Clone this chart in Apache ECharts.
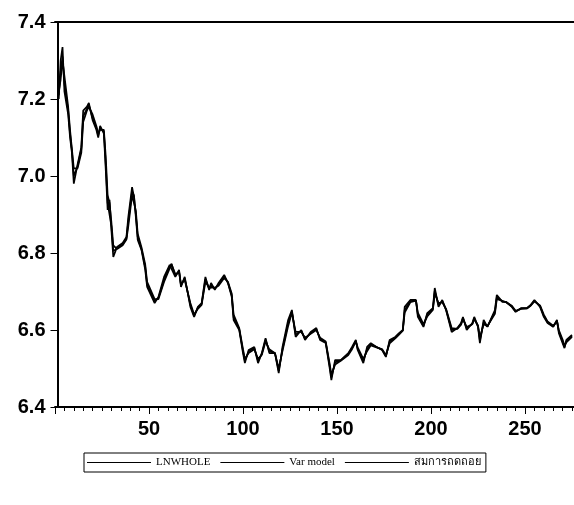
<!DOCTYPE html>
<html>
<head>
<meta charset="utf-8">
<script src="https://cdn.jsdelivr.net/npm/echarts@6/dist/echarts.min.js"></script>
<style>
html,body{margin:0;padding:0;background:#fff;overflow:hidden;}
#wrap{width:574px;height:505px;overflow:hidden;position:relative;}
#chart{width:619px;height:505px;position:absolute;left:0;top:0;}
</style>
</head>
<body>
<div id="wrap"><div id="chart"></div></div>
<script>
const seriesNames = ['LNWHOLE', 'Var model', 'สมการถดถอย'];
const yTicks = [6.4, 6.6, 6.8, 7.0, 7.2, 7.4];
const xs = [2,3,4,5,7,8,9,10,12,14,15,17,18,20,22,23,24,26,27,28,29,30,31,33,36,38,39,41,42,43,44,46,48,49,53,55,58,61,62,64,66,67,69,72,74,76,78,80,82,83,85,87,90,92,94,95,98,100,101,103,106,108,110,112,114,117,119,121,124,126,128,131,133,136,139,141,144,146,147,149,152,156,158,160,161,164,166,168,171,174,176,178,181,183,185,186,189,192,193,196,198,201,202,204,206,208,211,214,216,217,219,222,223,225,226,228,230,231,234,235,238,240,243,245,248,251,253,255,258,260,262,265,267,268,270,271,272,275];
const lnwhole = [7.20,7.30,7.335,7.22,7.16,7.10,7.06,6.98,7.03,7.075,7.17,7.18,7.19,7.145,7.12,7.10,7.13,7.11,7.016,6.912,6.938,6.86,6.79,6.816,6.826,6.842,6.894,6.971,6.945,6.894,6.834,6.808,6.756,6.712,6.670,6.686,6.738,6.769,6.774,6.738,6.756,6.712,6.738,6.660,6.634,6.660,6.670,6.738,6.704,6.722,6.704,6.722,6.743,6.722,6.686,6.626,6.600,6.540,6.514,6.548,6.556,6.514,6.540,6.579,6.540,6.540,6.488,6.556,6.626,6.652,6.582,6.600,6.574,6.595,6.605,6.574,6.566,6.504,6.470,6.522,6.522,6.540,6.556,6.574,6.548,6.514,6.556,6.566,6.556,6.548,6.530,6.574,6.582,6.592,6.600,6.660,6.678,6.678,6.634,6.608,6.644,6.657,6.709,6.660,6.678,6.652,6.595,6.605,6.618,6.634,6.600,6.618,6.634,6.608,6.566,6.626,6.608,6.608,6.652,6.691,6.673,6.673,6.660,6.647,6.657,6.657,6.665,6.678,6.660,6.634,6.618,6.608,6.626,6.592,6.566,6.553,6.574,6.587];
const varModel = [7.22,7.25,7.30,7.26,7.18,7.12,7.07,7.02,7.02,7.06,7.14,7.17,7.18,7.16,7.13,7.11,7.12,7.12,7.05,6.95,6.93,6.88,6.82,6.81,6.82,6.835,6.87,6.95,6.955,6.91,6.85,6.815,6.77,6.725,6.68,6.68,6.725,6.76,6.77,6.745,6.75,6.72,6.73,6.67,6.64,6.655,6.665,6.725,6.71,6.715,6.71,6.715,6.735,6.725,6.695,6.64,6.605,6.55,6.525,6.54,6.55,6.525,6.535,6.57,6.55,6.54,6.50,6.545,6.61,6.645,6.595,6.595,6.58,6.59,6.60,6.58,6.57,6.515,6.485,6.51,6.52,6.535,6.55,6.57,6.555,6.525,6.545,6.56,6.555,6.55,6.535,6.565,6.578,6.588,6.598,6.645,6.672,6.676,6.645,6.615,6.635,6.652,6.695,6.67,6.672,6.655,6.605,6.603,6.614,6.628,6.608,6.615,6.628,6.612,6.58,6.615,6.61,6.608,6.642,6.68,6.676,6.672,6.663,6.65,6.655,6.656,6.663,6.674,6.664,6.64,6.622,6.611,6.622,6.6,6.575,6.56,6.568,6.582];
const regression = [7.21,7.27,7.31,7.24,7.17,7.11,7.065,7.00,7.025,7.07,7.155,7.175,7.185,7.15,7.125,7.105,7.125,7.115,7.03,6.93,6.935,6.87,6.805,6.812,6.823,6.838,6.882,6.96,6.95,6.9,6.842,6.81,6.763,6.718,6.675,6.683,6.73,6.765,6.772,6.741,6.753,6.716,6.734,6.665,6.637,6.658,6.668,6.732,6.707,6.718,6.707,6.718,6.739,6.723,6.69,6.633,6.602,6.545,6.52,6.544,6.553,6.52,6.538,6.575,6.545,6.54,6.494,6.55,6.618,6.648,6.588,6.598,6.577,6.592,6.602,6.577,6.568,6.51,6.477,6.516,6.521,6.538,6.553,6.572,6.551,6.52,6.55,6.563,6.556,6.549,6.532,6.57,6.58,6.59,6.599,6.652,6.675,6.677,6.64,6.611,6.64,6.655,6.702,6.665,6.675,6.653,6.6,6.604,6.616,6.631,6.604,6.616,6.631,6.61,6.573,6.62,6.609,6.608,6.647,6.685,6.674,6.672,6.661,6.648,6.656,6.656,6.664,6.676,6.662,6.637,6.62,6.609,6.624,6.596,6.57,6.556,6.571,6.585];

const pairs = arr => xs.map((x, i) => [x, arr[i]]);
const chart = echarts.init(document.getElementById('chart'), null, {renderer: 'canvas'});
const lineSeries = (name, arr) => ({
  name, type: 'line', data: pairs(arr), symbol: 'none', showSymbol: false,
  lineStyle: {color: '#000', width: 1.7}, itemStyle: {color: '#000'},
  animation: false, silent: true
});
chart.setOption({
  backgroundColor: '#fff',
  animation: false,
  grid: {left: 55, top: 22, right: 0, bottom: 98, containLabel: false, outerBoundsMode: 'none'},
  legend: {
    left: 84, top: 453, orient: 'horizontal',
    data: seriesNames,
    icon: 'rect',
    itemWidth: 64, itemHeight: 1, itemGap: 10,
    padding: [4, 5, 4, 3],
    borderColor: '#000', borderWidth: 1,
    textStyle: {fontFamily: 'Liberation Serif, serif', fontSize: 11, color: '#000'}
  },
  xAxis: [{
    type: 'value', min: 0, max: 300, interval: 50,
    axisLine: {show: true, lineStyle: {color: '#000', width: 2}},
    axisTick: {show: true, length: 7, lineStyle: {color: '#000', width: 1}},
    minorTick: {show: true, splitNumber: 10, length: 4, lineStyle: {color: '#000', width: 1}},
    axisLabel: {
      color: '#000', fontFamily: 'Liberation Sans, Arial, sans-serif', fontSize: 20, fontWeight: 'bold', margin: 12,
      formatter: v => (v === 0 ? '' : String(v))
    },
    splitLine: {show: false}
  }, {
    type: 'value', min: 0, max: 300, position: 'top',
    axisLine: {show: true, lineStyle: {color: '#000', width: 2}},
    axisTick: {show: false}, axisLabel: {show: false}, splitLine: {show: false}
  }],
  yAxis: {
    type: 'value', min: 6.4, max: 7.4, interval: 0.2, offset: -2.5,
    axisLine: {show: true, onZero: false, lineStyle: {color: '#000', width: 2}},
    axisTick: {show: true, length: 7, lineStyle: {color: '#000', width: 1}},
    axisLabel: {
      color: '#000', fontFamily: 'Liberation Sans, Arial, sans-serif', fontSize: 20, fontWeight: 'bold', margin: 12,
      formatter: v => v.toFixed(1)
    },
    splitLine: {show: false}
  },
  series: [
    lineSeries(seriesNames[0], lnwhole),
    lineSeries(seriesNames[1], varModel),
    lineSeries(seriesNames[2], regression)
  ]
});
</script>
</body>
</html>
